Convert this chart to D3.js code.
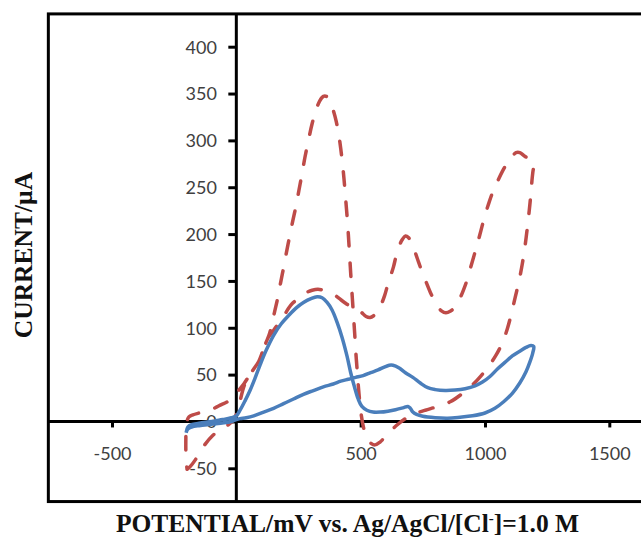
<!DOCTYPE html>
<html>
<head>
<meta charset="utf-8">
<script src="https://cdn.jsdelivr.net/npm/d3@7"></script>
<style>
  html, body { margin: 0; padding: 0; background: #fff; }
  svg { display: block; }
</style>
</head>
<body>
<svg id="chart" width="641" height="537"></svg>
<script>
// Tick values
const xTickValues = [-500, 500, 1000, 1500];
const yTickValues = [-50, 0, 50, 100, 150, 200, 250, 300, 350, 400];

// Solid voltammogram: potential (mV) and current (µA), one full cycle
const solidPotential = [
  -202, -195, -180, -150, -100, -55, -20, 0, 15, 35, 55, 75, 95, 120, 150, 180, 210, 240, 270, 300,
  325, 345, 365, 385, 405, 425, 445, 460, 475, 490, 505, 525, 550, 580, 610, 640, 670, 690, 700, 710,
  725, 750, 800, 850, 900, 950, 1000, 1040, 1075, 1110, 1140, 1165, 1180, 1192, 1196,
  1185, 1165, 1140, 1110, 1080, 1050, 1020, 990, 960, 920, 880, 840, 800, 770, 740, 710, 680, 655,
  630, 615, 595, 570, 540, 510, 480, 450, 420, 390, 350, 310, 270, 230, 190, 150, 110, 70, 40, 15,
  0, -20, -50, -100, -150, -180, -195, -202
];
const solidCurrent = [
  -12, -6, -3.5, -2, 0, 2, 4, 6, 12, 22, 33, 46, 60, 76, 92, 104, 113, 121, 127, 131,
  133, 132, 127, 119, 106, 90, 70, 52, 37, 24, 16, 12, 10, 10, 11, 12.5, 14.5, 16, 14, 10,
  7.5, 5.5, 4, 3.5, 4.5, 6, 9, 14, 21, 30, 41, 53, 63, 73, 80,
  81, 79, 75, 70, 63, 56, 48, 42, 38, 35, 33.5, 33, 34, 36, 41, 47, 52, 57,
  60, 60, 58, 55, 52, 49, 47, 45, 43, 40, 37, 33, 29, 24, 19, 14, 10, 6, 4, 3,
  2, 0, -1.5, -3, -4.5, -6, -8, -12
];

// Dashed voltammogram: potential (mV) and current (µA), one full cycle
const dashedPotential = [
  -198, -185, -165, -130, -95, -60, -30, -10, 5, 18, 30, 50, 70, 90, 105, 119, 130, 140, 153, 165,
  178, 190, 202, 214, 227, 240, 252, 264, 276, 290, 305, 320, 335, 350, 362, 376, 390, 402, 412, 420,
  427, 433, 438, 443, 448, 452, 456, 460, 464, 468, 472, 476, 480, 485, 490, 496, 503, 512, 524, 540,
  558, 578, 600, 625, 650, 680, 715, 760, 810, 860, 910, 950, 985, 1015, 1045, 1070, 1090, 1107, 1122, 1137,
  1150, 1161, 1170, 1178, 1185, 1190, 1195, 1199,
  1194, 1180, 1160, 1140, 1125, 1110, 1090, 1070, 1050, 1030, 1013, 998, 984, 970, 956, 942, 928, 913, 897, 880,
  862, 843, 825, 810, 795, 780, 763, 748, 733, 720, 707, 693, 680, 667, 655, 643, 632, 620, 608, 596,
  583, 568, 553, 538, 522, 505, 488, 470, 452, 435, 415, 395, 375, 352, 328, 305, 285, 265, 245, 225,
  208, 192, 175, 160, 146, 132, 119, 105, 90, 70, 50, 30, 12, -10, -36, -60, -90, -120, -150, -175,
  -190, -198, -202, -203, -203, -201, -198
];
const dashedCurrent = [
  -51, -48, -41, -26, -15, -8, -3, 2, 12, 25, 37, 48, 56, 64, 74, 84, 91, 100, 116, 130,
  148, 164, 181, 197, 214, 230, 247, 264, 282, 300, 318, 332, 342, 347, 347, 342, 332, 320, 306, 291,
  275, 259, 243, 227, 210, 193, 176, 158, 142, 126, 110, 94, 76, 58, 40, 22, 6, -7, -17, -23,
  -25, -22, -16, -9, -3, 3, 8, 12, 16, 21, 30, 39, 49, 59, 71, 84, 99, 116, 133, 150,
  168, 187, 206, 225, 244, 260, 270, 273,
  277, 280, 283, 287, 287, 283, 276, 267, 256, 244, 231, 218, 204, 190, 177, 164, 151, 140, 130, 122,
  118, 116, 118, 123, 130, 138, 149, 159, 170, 180, 189, 196, 198, 194, 187, 177, 165, 155, 145, 134,
  125, 117, 113, 111, 112, 116, 120, 122, 124, 127, 131, 135, 138, 140, 141, 140, 138, 134, 130, 126,
  120, 113, 107, 101, 96, 91, 84, 74, 64, 56, 48, 40, 34, 27, 21, 18, 14, 11, 9, 7,
  5, 1, -6, -18, -32, -44, -51
];

const svg = d3.select("#chart");

const x = d3.scaleLinear().domain([-500, 1500]).range([112, 609.3]);
const y = d3.scaleLinear().domain([-50, 400]).range([468.3, 46.7]);

// Plot-area frame (runs past the right edge)
const frame = { xMin: -756, xMax: 1720, yMin: -85.5, yMax: 435 };
svg.append("rect")
  .attr("x", x(frame.xMin)).attr("y", y(frame.yMax))
  .attr("width", x(frame.xMax) - x(frame.xMin))
  .attr("height", y(frame.yMin) - y(frame.yMax))
  .attr("fill", "none").attr("stroke", "#000").attr("stroke-width", 3);

const labelFont = "Lato, 'Open Sans', sans-serif";
const plainNumber = d => String(d);

// Vertical axis through zero potential
const yAxis = svg.append("g")
  .attr("transform", `translate(${x(0)},0)`)
  .call(d3.axisLeft(y).tickValues(yTickValues).tickSize(8).tickFormat(plainNumber));
yAxis.select(".domain").remove();
yAxis.selectAll(".tick line").attr("stroke", "#000").attr("stroke-width", 3);
yAxis.selectAll(".tick text")
  .attr("x", -19.5).attr("dy", "0.35em")
  .attr("fill", "#404040")
  .style("font-family", labelFont).style("font-size", "18px");
svg.append("line")
  .attr("x1", x(0)).attr("x2", x(0))
  .attr("y1", y(frame.yMax)).attr("y2", y(frame.yMin))
  .attr("stroke", "#000").attr("stroke-width", 3);

// Horizontal axis through zero current
const xAxis = svg.append("g")
  .attr("transform", `translate(0,${y(0)})`)
  .call(d3.axisBottom(x).tickValues(xTickValues).tickSize(6).tickFormat(plainNumber));
xAxis.select(".domain").remove();
xAxis.selectAll(".tick line").attr("stroke", "#000").attr("stroke-width", 3);
xAxis.selectAll(".tick text")
  .attr("y", 32).attr("dy", "0.35em")
  .attr("fill", "#404040")
  .style("font-family", labelFont).style("font-size", "18px");
svg.append("line")
  .attr("x1", x(frame.xMin)).attr("x2", x(frame.xMax))
  .attr("y1", y(0)).attr("y2", y(0))
  .attr("stroke", "#000").attr("stroke-width", 3);

// Curves
const line = d3.line()
  .x(d => x(d[0]))
  .y(d => y(d[1]))
  .curve(d3.curveCatmullRom.alpha(0.5));

const dashedPts = dashedPotential.map((e, i) => [e, dashedCurrent[i]]);
const solidPts = solidPotential.map((e, i) => [e, solidCurrent[i]]);

svg.append("path")
  .attr("d", line(dashedPts))
  .attr("fill", "none")
  .attr("stroke", "#be4b48")
  .attr("stroke-width", 3.5)
  .attr("stroke-linecap", "round")
  .attr("stroke-dasharray", "13.5,17");

svg.append("path")
  .attr("d", line(solidPts))
  .attr("fill", "none")
  .attr("stroke", "#4a7ebb")
  .attr("stroke-width", 3.5)
  .attr("stroke-linejoin", "round");

// Axis titles
const titleFont = "'Liberation Serif', 'Times New Roman', serif";
svg.append("text")
  .attr("transform", `translate(32,255) rotate(-90)`)
  .attr("text-anchor", "middle")
  .style("font-family", titleFont).style("font-size", "25.5px").style("font-weight", "bold")
  .attr("fill", "#111")
  .text("CURRENT/µA");

const xTitle = svg.append("text")
  .attr("x", 347.5).attr("y", 532)
  .attr("text-anchor", "middle")
  .style("font-family", titleFont).style("font-size", "25.5px").style("font-weight", "bold")
  .attr("fill", "#111");
xTitle.append("tspan").text("POTENTIAL/mV vs. Ag/AgCl/[Cl");
xTitle.append("tspan").attr("dy", -9).style("font-size", "15px").text("-");
xTitle.append("tspan").attr("dy", 9).text("]=1.0 M");
</script>
</body>
</html>
